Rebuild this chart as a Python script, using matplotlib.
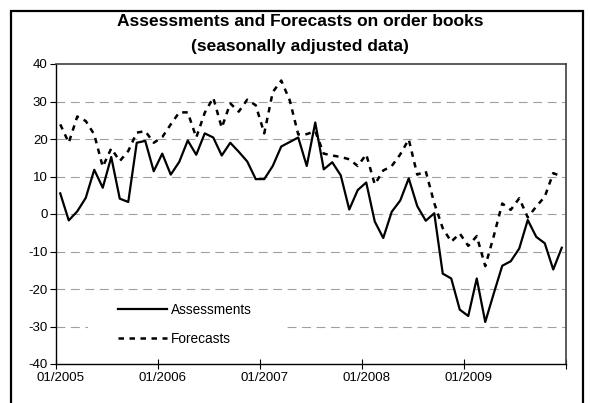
import matplotlib.pyplot as plt
from matplotlib.patches import Rectangle

plt.rcParams['font.family'] = ['Liberation Sans', 'DejaVu Sans']
plt.rcParams['axes.unicode_minus'] = False

# monthly data 01/2005 - 12/2009
assessments = [5.5, -1.7, 0.7, 4.3, 11.8, 7.0, 15.2, 4.1, 3.2, 19.0,
               19.5, 11.4, 16.1, 10.5, 13.9, 19.6, 15.8, 21.5, 20.4, 15.6,
               19.0, 16.6, 14.0, 9.3, 9.3, 12.8, 18.0, 19.2, 20.4, 12.8,
               24.4, 11.9, 13.8, 10.3, 1.2, 6.4, 8.4, -2.0, -6.4, 0.6,
               3.6, 9.5, 2.1, -1.8, 0.2, -15.9, -17.2, -25.5, -27.2, -17.2,
               -28.8, -21.2, -13.8, -12.6, -9.2, -1.6, -6.1, -7.8, -14.8, -9.0]
forecasts = [23.9, 19.0, 26.0, 24.8, 21.2, 12.6, 17.5, 14.1, 16.8, 21.7,
             22.1, 19.0, 20.5, 23.9, 27.1, 27.1, 20.4, 27.0, 31.0, 23.0,
             29.5, 27.3, 30.5, 29.0, 21.5, 32.5, 35.6, 30.3, 21.2, 21.3,
             22.1, 16.1, 15.6, 15.2, 14.6, 12.8, 15.9, 7.9, 11.6, 12.8,
             15.9, 19.9, 10.5, 11.4, 2.9, -3.8, -7.4, -5.2, -8.5, -5.9,
             -13.9, -5.9, 2.8, 1.1, 4.2, -0.9, 2.0, 4.6, 10.9, 10.0]
year_labels = ['01/2005', '01/2006', '01/2007', '01/2008', '01/2009']
y_ticks = [-40, -30, -20, -10, 0, 10, 20, 30, 40]

months = list(range(len(assessments)))

fig = plt.figure(figsize=(5.9, 4.03), dpi=100)
ax = fig.add_axes([56 / 590, 39 / 403, 510 / 590, 300 / 403])

# grid
for v in y_ticks[1:-1]:
    ax.axhline(v, color='#a0a0a0', lw=0.8, linestyle=(0, (8, 5)), zorder=1)

# white legend background (hides grid behind legend)
ax.add_patch(Rectangle((32 / 510, 14 / 300), 197 / 510, 55 / 300,
                       transform=ax.transAxes, facecolor='white',
                       edgecolor='none', zorder=2))

ax.plot(months, assessments, color='black', lw=1.6, label='Assessments', zorder=3)
ax.plot(months, forecasts, color='black', lw=1.8, linestyle=(0, (2.2, 2.2)),
        label='Forecasts', zorder=3)

ax.set_xlim(-0.5, len(months) - 0.5)
ax.set_ylim(-40, 40)
ax.set_yticks(y_ticks)
ax.tick_params(axis='y', direction='out', length=4, width=0.8, pad=2,
               labelsize=9.5)

# ticks at year boundaries, labels centred on January
ax.set_xticks([i - 0.5 for i in range(0, len(months) + 1, 12)])
ax.set_xticklabels([])
ax.tick_params(axis='x', which='major', direction='inout', length=7, width=0.8)
ax.set_xticks(list(range(0, len(months), 12)), minor=True)
ax.set_xticklabels(year_labels, minor=True)
ax.tick_params(axis='x', which='minor', length=0, pad=6, labelsize=9.5)

for side in ['left', 'bottom']:
    ax.spines[side].set_color('black')
    ax.spines[side].set_linewidth(1.0)
for side in ['top', 'right']:
    ax.spines[side].set_color('#404040')
    ax.spines[side].set_linewidth(1.2)

leg = ax.legend(loc='upper left', bbox_to_anchor=(62 / 510, 61 / 300),
                frameon=False, fontsize=9.8, handlelength=3.6,
                handletextpad=0.3, labelspacing=1.1, borderpad=0,
                borderaxespad=0)
leg.set_zorder(4)

fig.text(300 / 590, 1 - 22 / 403, 'Assessments and Forecasts on order books',
         ha='center', va='center', fontsize=12.5, fontweight='bold')
fig.text(300 / 590, 1 - 46 / 403, '(seasonally adjusted data)',
         ha='center', va='center', fontsize=12.5, fontweight='bold')

# outer chart border
fig.patches.append(Rectangle((11 / 590, -0.05), 572 / 590, 1.05 - 11 / 403,
                             transform=fig.transFigure, fill=False,
                             edgecolor='black', lw=1.6))

plt.savefig('out.png', dpi=100)
